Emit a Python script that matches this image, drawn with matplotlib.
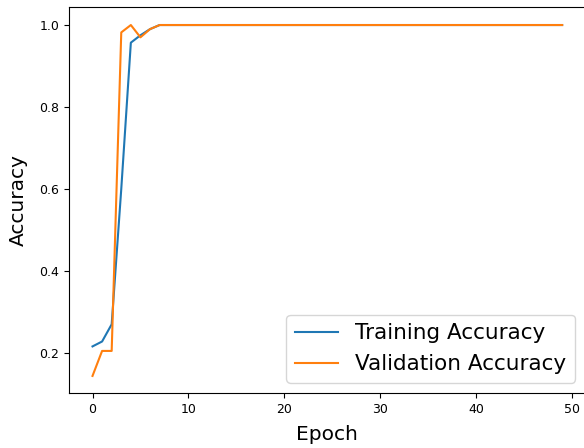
import matplotlib
matplotlib.use("Agg")
import matplotlib.pyplot as plt

epochs = list(range(50))
train_acc = [0.216, 0.228, 0.270, 0.600, 0.957, 0.975, 0.990, 1.0] + [1.0] * 42
val_acc = [0.144, 0.205, 0.205, 0.982, 1.0, 0.970, 0.990, 1.0] + [1.0] * 42

fig = plt.figure(figsize=(5.84, 4.48), dpi=100)
ax = fig.add_axes([0.1182, 0.1217, 0.8846, 0.8616])
ax.plot(epochs, train_acc, label="Training Accuracy", color="#1f77b4", lw=1.5)
ax.plot(epochs, val_acc, label="Validation Accuracy", color="#ff7f0e", lw=1.5)
ax.set_xlabel("Epoch", fontsize=14.5, labelpad=6)
ax.set_ylabel("Accuracy", fontsize=14.5, labelpad=8)
ax.set_xticks([0, 10, 20, 30, 40, 50])
ax.set_yticks([0.2, 0.4, 0.6, 0.8, 1.0])
ax.tick_params(labelsize=9)
ax.legend(loc="lower right", fontsize=15.5)
fig.savefig("out.png", dpi=100)
